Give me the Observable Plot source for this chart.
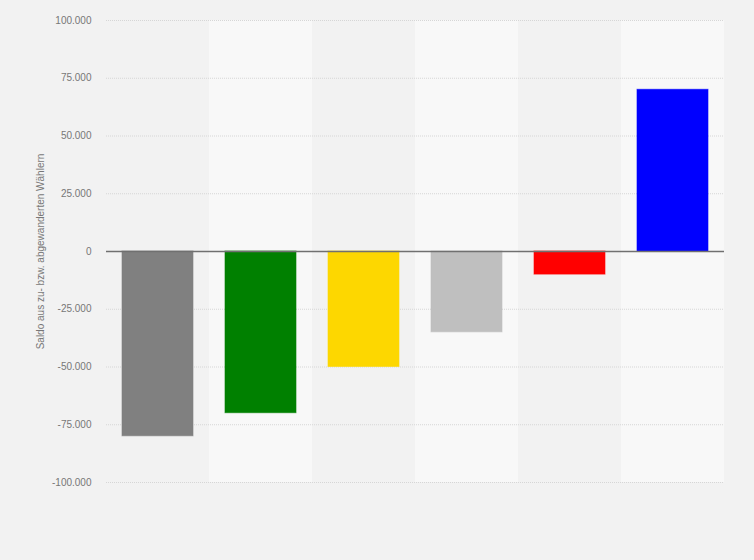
<!DOCTYPE html>
<html>
<head>
<meta charset="utf-8">
<script src="https://cdn.jsdelivr.net/npm/d3@7"></script>
<script src="https://cdn.jsdelivr.net/npm/@observablehq/plot@0.6"></script>
<style>
  html, body { margin: 0; padding: 0; background: #f2f2f2; }
  #chart { width: 754px; height: 560px; }
  svg { display: block; }
</style>
</head>
<body>
<div id="chart"></div>
<script>
const categories = ["CDU", "Grüne", "FDP", "Sonstige", "SPD", "AfD"];
const values = [-80000, -70000, -50000, -35000, -10000, 70000];
const colors = ["#808080", "#008000", "#fdd700", "#bfbfbf", "#ff0000", "#0000ff"];
const yTicks = [-100000, -75000, -50000, -25000, 0, 25000, 50000, 75000, 100000];
const yLabel = "Saldo aus zu- bzw. abgewanderten Wählern";

const data = categories.map((c, i) => ({category: c, value: values[i], color: colors[i]}));
const bands = categories.filter((c, i) => i % 2 === 1).map(c => ({category: c}));

const de = d3.formatLocale({decimal: ",", thousands: ".", grouping: [3], currency: ["", " €"], minus: "-"});
const fmt = de.format(",");

const chart = Plot.plot({
  width: 754,
  height: 560,
  marginLeft: 106,
  marginRight: 30,
  marginTop: 20,
  marginBottom: 78,
  style: {background: "#f2f2f2", fontFamily: "'Liberation Sans', Arial, sans-serif", fontSize: "10px", color: "#777"},
  x: {domain: categories, padding: 0, axis: null},
  y: {domain: [-100000, 100000], ticks: yTicks, tickFormat: fmt, tickSize: 0, tickPadding: 15,
      label: yLabel, labelAnchor: "center", labelArrow: "none", labelOffset: 70},
  marks: [
    Plot.barY(bands, {x: "category", y1: -100000, y2: 100000, fill: "#f8f8f8"}),
    Plot.ruleY(yTicks.filter(d => d !== 0), {stroke: "#d6d6d6", strokeDasharray: "1,1", strokeWidth: 1}),
    Plot.barY(data, {x: "category", y: "value", fill: "color", stroke: "color", strokeOpacity: 0.6, insetLeft: 16, insetRight: 16}),
    Plot.ruleY([0], {stroke: "#707070", strokeWidth: 1.5})
  ]
});
document.getElementById("chart").appendChild(chart);
</script>
</body>
</html>
